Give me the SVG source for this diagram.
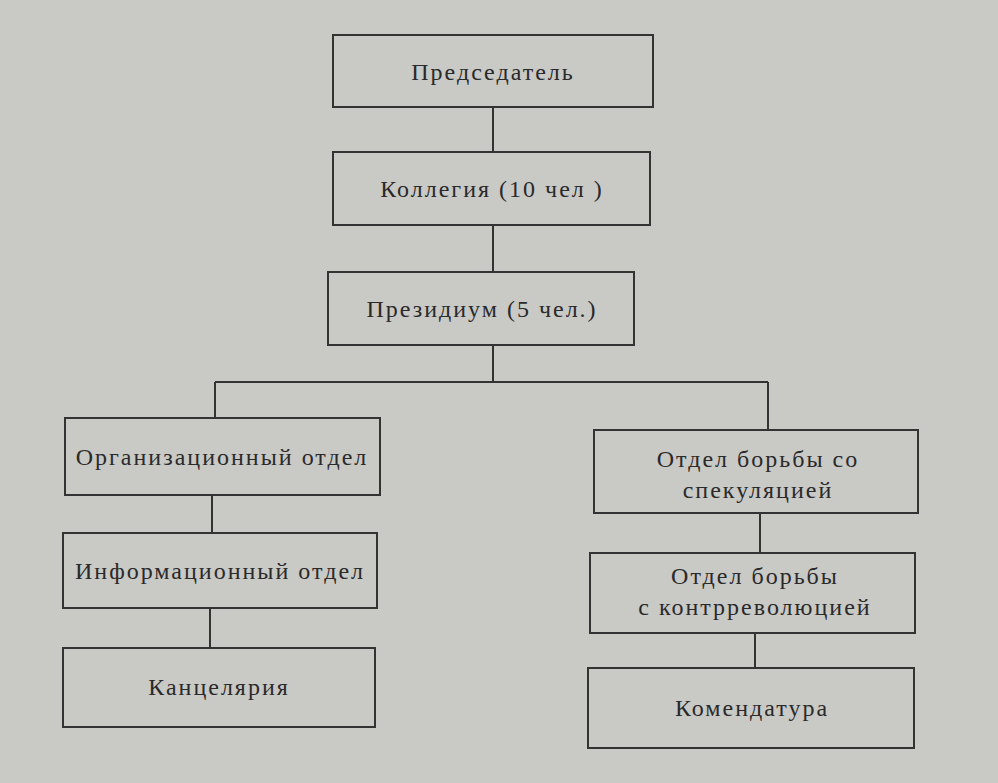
<svg xmlns="http://www.w3.org/2000/svg" width="998" height="783" viewBox="0 0 998 783">
<style>
.b{fill:none;stroke:#333;stroke-width:2}
.c{fill:none;stroke:#333;stroke-width:2}
text{font-family:"Liberation Serif","DejaVu Serif",serif;font-size:24px;fill:#2a2a2a;text-anchor:middle;letter-spacing:2px}
</style>
<rect width="998" height="783" fill="#c9c9c6"/>
<g id="connectors">
<path class="c" d="M493 107V152M493 225V272M493 345V382M215 382H768M215 382V418M768 382V430M212 495V533M210 608V648M760 513V553M755 633V668"/>
</g>
<g id="n1"><rect class="b" x="333" y="35" width="320" height="72"/><text x="493" y="80">Председатель</text></g>
<g id="n2"><rect class="b" x="333" y="152" width="317" height="73"/><text x="492" y="197">Коллегия (10 чел )</text></g>
<g id="n3"><rect class="b" x="328" y="272" width="306" height="73"/><text x="482" y="317">Президиум (5 чел.)</text></g>
<g id="n4"><rect class="b" x="65" y="418" width="315" height="77"/><text x="222" y="465">Организационный отдел</text></g>
<g id="n5"><rect class="b" x="63" y="533" width="314" height="75"/><text x="220" y="579">Информационный отдел</text></g>
<g id="n6"><rect class="b" x="63" y="648" width="312" height="79"/><text x="219" y="695">Канцелярия</text></g>
<g id="n7"><rect class="b" x="594" y="430" width="324" height="83"/><text x="758" y="467">Отдел борьбы со</text><text x="758" y="498">спекуляцией</text></g>
<g id="n8"><rect class="b" x="590" y="553" width="325" height="80"/><text x="755" y="584">Отдел борьбы</text><text x="755" y="615">с контрреволюцией</text></g>
<g id="n9"><rect class="b" x="588" y="668" width="326" height="80"/><text x="752" y="716">Комендатура</text></g>
</svg>
